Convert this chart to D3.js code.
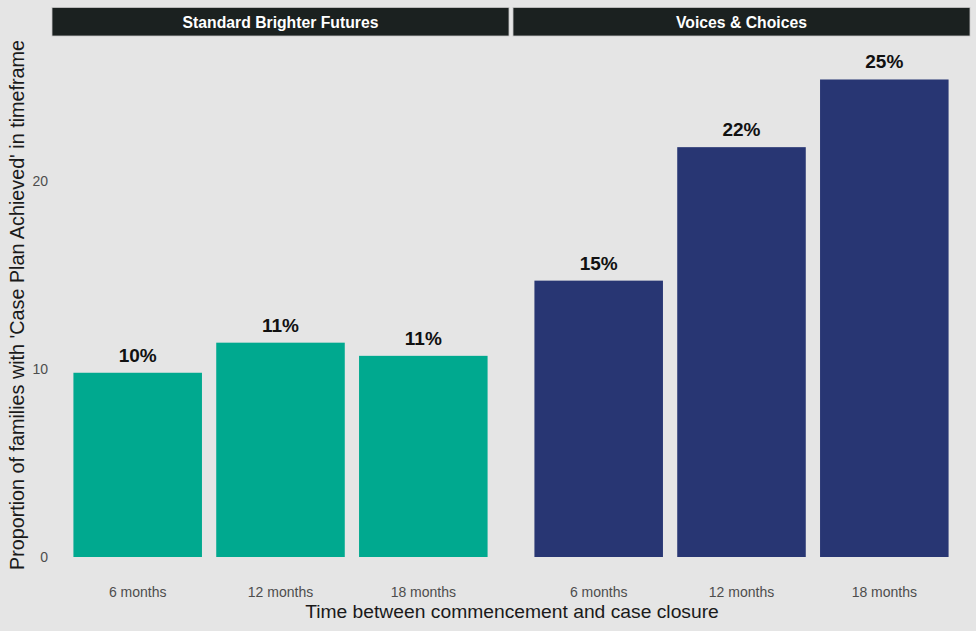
<!DOCTYPE html>
<html><head><meta charset="utf-8">
<script src="https://cdn.jsdelivr.net/npm/d3@7"></script>
<style>body{margin:0;background:#e5e5e5;}svg{display:block;font-family:"Liberation Sans",Arial,sans-serif;}</style>
</head><body>
<svg id="c" width="976" height="631"></svg>
<script>
const panels = ["Standard Brighter Futures", "Voices & Choices"];
const categories = ["6 months", "12 months", "18 months"];
const sbfValues = [9.8, 11.4, 10.7];
const vcValues = [14.7, 21.8, 25.4];
const sbfLabels = ["10%", "11%", "11%"];
const vcLabels = ["15%", "22%", "25%"];
const yTicks = [0, 10, 20];
const panelColors = ["#00a98f", "#283673"];

const svg = d3.select("#c");
svg.append("rect").attr("width", 976).attr("height", 631).attr("fill", "#e5e5e5");

function fit(sel, base, target) {
  sel.attr("font-size", base);
  const w = sel.node().getComputedTextLength();
  if (w > 0) sel.attr("font-size", base * target / w);
}

const y = d3.scaleLinear().domain([0, 20]).range([557, 181]);
const panelX = [[52, 509], [513, 970]];
const data = [sbfValues, vcValues];
const labels = [sbfLabels, vcLabels];
const stripWidths = [196, 131];

panels.forEach((p, i) => {
  const [x0, x1] = panelX[i];
  const x = d3.scaleBand().domain(categories).range([x0, x1]).paddingInner(0.1).paddingOuter(0.15);
  // strip
  svg.append("rect").attr("x", x0).attr("y", 7.5).attr("width", x1 - x0).attr("height", 28.5)
    .attr("fill", "#1b2120").attr("stroke", "#c8c8c8").attr("stroke-width", 0.8);
  const st = svg.append("text").attr("x", (x0 + x1) / 2).attr("y", 27.5).attr("text-anchor", "middle")
    .attr("fill", "#ffffff").attr("font-weight", "bold").text(p);
  fit(st, 15.5, stripWidths[i]);
  // bars
  const g = svg.append("g");
  g.selectAll("rect").data(categories).join("rect")
    .attr("x", d => x(d)).attr("width", x.bandwidth())
    .attr("y", (d, j) => y(data[i][j])).attr("height", (d, j) => y(0) - y(data[i][j]))
    .attr("fill", panelColors[i]);
  g.selectAll("text.lbl").data(categories).join("text").attr("class", "lbl")
    .attr("x", d => x(d) + x.bandwidth() / 2).attr("y", (d, j) => y(data[i][j]) - 11)
    .attr("text-anchor", "middle").attr("font-weight", "bold").attr("font-size", 19)
    .attr("fill", "#111").text((d, j) => labels[i][j]);
  // x axis
  const ax = svg.append("g").attr("transform", "translate(0,587)")
    .call(d3.axisBottom(x).tickSize(0).tickPadding(0));
  ax.select(".domain").remove();
  ax.selectAll("text").attr("fill", "#4d4d4d").attr("font-size", 14).attr("font-family", "Liberation Sans, Arial, sans-serif");
});

// y axis
const ay = svg.append("g").attr("transform", "translate(48,0)")
  .call(d3.axisLeft(y).tickValues(yTicks).tickSize(0).tickPadding(0));
ay.select(".domain").remove();
ay.selectAll("text").attr("fill", "#4d4d4d").attr("font-size", 14).attr("font-family", "Liberation Sans, Arial, sans-serif");

const xt = svg.append("text").attr("x", 512).attr("y", 618).attr("text-anchor", "middle")
  .attr("fill", "#1a1a1a").text("Time between commencement and case closure");
fit(xt, 19, 414);
const yt = svg.append("text").attr("transform", "translate(24,305) rotate(-90)").attr("text-anchor", "middle")
  .attr("fill", "#1a1a1a").text("Proportion of families with 'Case Plan Achieved' in timeframe");
fit(yt, 18.4, 530);
</script>
</body></html>
